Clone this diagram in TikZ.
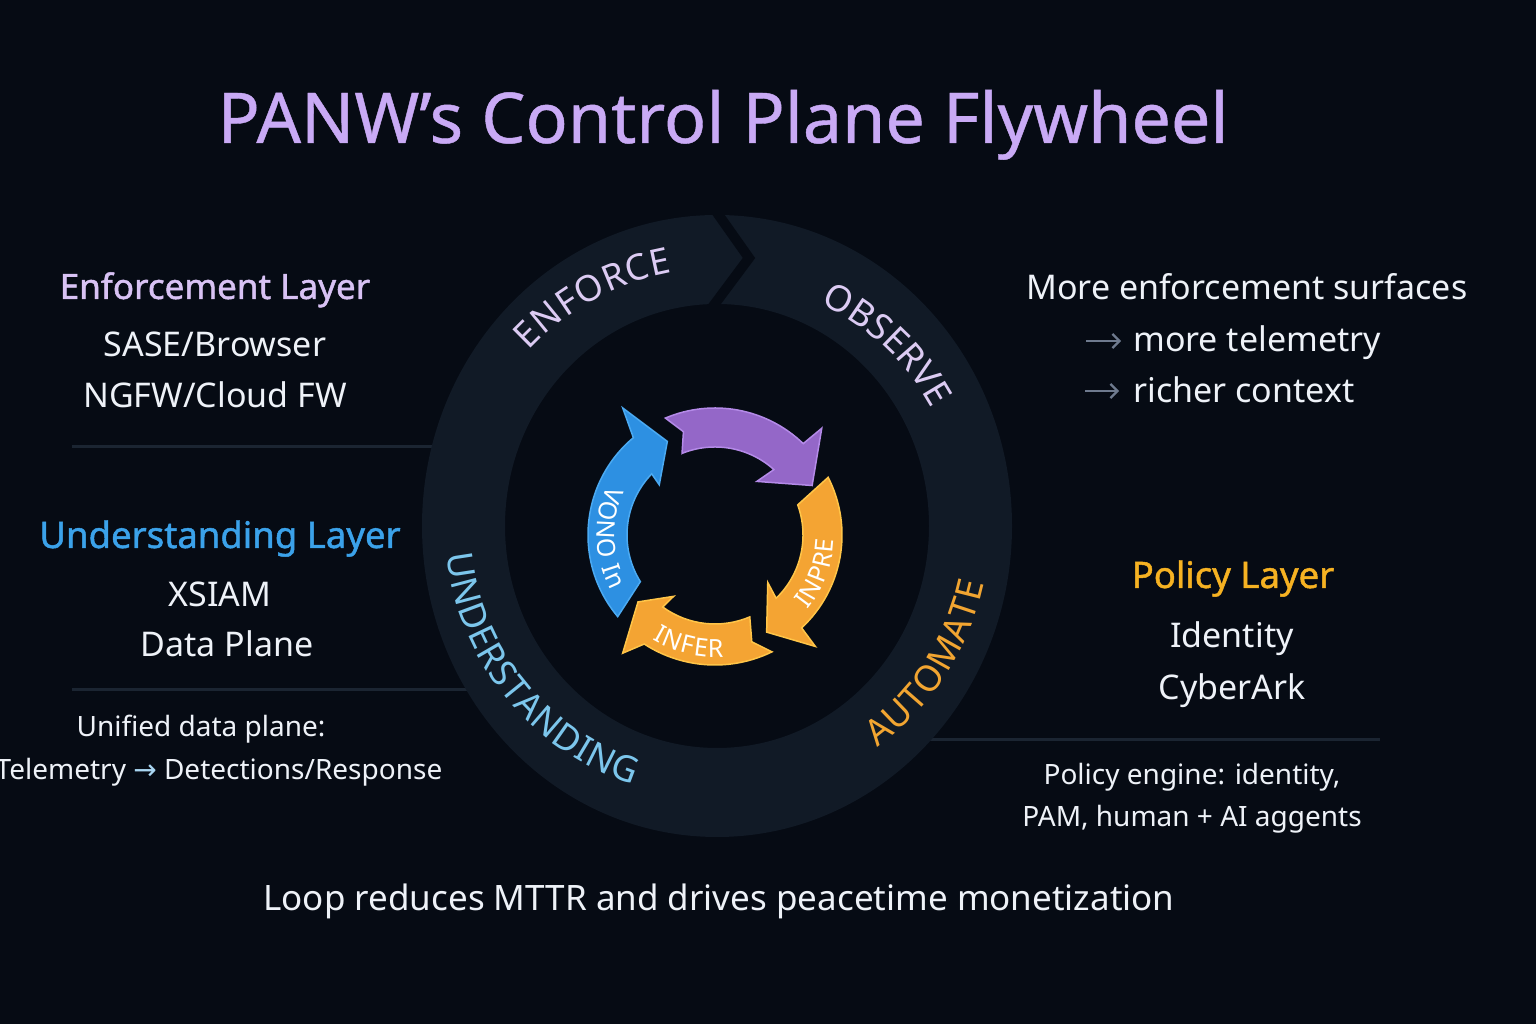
\documentclass[tikz,border=0pt]{standalone}
\usepackage{fontspec}
\setmainfont{Noto Sans}
\newfontfamily\symfont{DejaVu Sans}
\newfontfamily\headfont[FakeBold=1.3]{Noto Sans}
\newfontfamily\titlefont[FakeBold=0.6]{Noto Sans}
\usetikzlibrary{decorations.text,arrows.meta}
\definecolor{bg}{HTML}{060B14}
\definecolor{ringc}{HTML}{111A26}
\definecolor{divc}{HTML}{1B2532}
\definecolor{titlec}{HTML}{C9AAF5}
\definecolor{enfc}{HTML}{D8C2F4}
\definecolor{undc}{HTML}{3BA2EA}
\definecolor{polc}{HTML}{F6B222}
\definecolor{txtc}{HTML}{EEF2F8}
\definecolor{ringenf}{HTML}{DCCBF3}
\definecolor{ringund}{HTML}{7CC6EC}
\definecolor{ringaut}{HTML}{F2A531}
\definecolor{bluea}{HTML}{2D90E2}
\definecolor{blueedge}{HTML}{4BAAF2}
\definecolor{purpa}{HTML}{9467C8}
\definecolor{purpedge}{HTML}{B48AE8}
\definecolor{orga}{HTML}{F4A433}
\definecolor{orgedge}{HTML}{FFC548}
\definecolor{grayarr}{HTML}{6E7A8E}
\definecolor{arrlight}{HTML}{A9D6F2}
\newcommand\ringtxt{\fontsize{36}{36}\selectfont}
\newcommand\arrtxt{\fontsize{25}{25}\selectfont\bfseries}
\begin{document}
\begin{tikzpicture}[x=1pt,y=1pt,
  body/.style={text=txtc, font=\fontsize{34}{40}\selectfont, anchor=base, inner sep=0pt},
  smalltxt/.style={text=txtc, font=\fontsize{28}{34}\selectfont, anchor=base, inner sep=0pt},
  heading/.style={anchor=base, inner sep=0pt},
  divider/.style={draw=divc, line width=3pt},
  arrowshape/.style={line width=1.5pt, line join=miter},
  ringlabel/.style={decorate, decoration={text along path, text align=fit to path}},
  grayarrow/.style={draw=grayarr, line width=2.2pt, -{Straight Barb[length=7pt,width=14pt]}}]
\fill[bg] (0,0) rectangle (1536,1024);
\useasboundingbox (0,0) rectangle (1536,1024);

% title
\node[heading, text=titlec, font=\titlefont\fontsize{70}{80}\selectfont] (title) at (723,881) {PANW’s Control Plane Flywheel};

% dividers (behind ring)
\coordinate (d1a) at (72,577); \coordinate (d1b) at (480,577);
\coordinate (d2a) at (72,334); \coordinate (d2b) at (500,334);
\coordinate (d3a) at (900,284); \coordinate (d3b) at (1380,284);
\draw[divider] (d1a) -- (d1b);
\draw[divider] (d2a) -- (d2b);
\draw[divider] (d3a) -- (d3b);

% outer ring
\coordinate (C) at (717,498);
\fill[ringc, even odd rule] (C) ellipse[x radius=295, y radius=311] (C) ellipse[x radius=212, y radius=222];
\coordinate (n1) at (713,817); \coordinate (n2) at (749,766); \coordinate (n3) at (711,715);
\draw[bg, line width=10pt, miter limit=10] (n1) -- (n2) -- (n3);

\begin{scope}[shift={(C)}]
  \path[ringlabel, decoration={text={|\ringtxt\color{ringenf}|ENFORCE}}]
    (137:257) arc[start angle=137, end angle=100, radius=257];
  \path[ringlabel, decoration={text={|\ringtxt\color{ringenf}|OBSERVE}}]
    (65:245) arc[start angle=65, end angle=30, radius=245];
  \path[ringlabel, decoration={text={|\ringtxt\color{ringund}|UNDERSTANDING}}]
    (186:272) arc[start angle=186, end angle=252, radius=272];
  \path[ringlabel, decoration={text={|\ringtxt\color{ringaut}|AUTOMATE}}]
    (-54:273) arc[start angle=-54, end angle=-12, radius=273];
\end{scope}

% inner arrows
\begin{scope}[shift={(715,489)}]
  \filldraw[fill=bluea, draw=blueedge, arrowshape]
    (220:127) arc[start angle=220, end angle=130, radius=127] -- (126:157) -- (117:105) -- (138:75) -- (136:88)
    arc[start angle=136, end angle=212, radius=88] -- cycle;
  \filldraw[fill=purpa, draw=purpedge, arrowshape]
    (113:127) arc[start angle=113, end angle=46, radius=127] -- (45:151) -- (27:109) -- (52:68) -- (48:88)
    arc[start angle=48, end angle=112, radius=88] -- (107:108) -- cycle;
  \filldraw[fill=orga, draw=orgedge, arrowshape]
    (27:127) arc[start angle=27, end angle=-47, radius=127] -- (-48:150) -- (-62:110) -- (-42:71) -- (-46:88)
    arc[start angle=-46, end angle=20, radius=88] -- cycle;
  \filldraw[fill=orga, draw=orgedge, arrowshape]
    (296:130) arc[start angle=296, end angle=237, radius=130] -- (232:150) -- (221:102) -- (236:74) -- (234:89)
    arc[start angle=234, end angle=293, radius=89] -- (289:113) -- cycle;
  \path[ringlabel, decoration={text={|\arrtxt\color{white}|INFER}}]
    (239:122) arc[start angle=239, end angle=274, radius=122];
  \path[ringlabel, decoration={text={|\arrtxt\color{white}|INPRE}}]
    (-39:119) arc[start angle=-39, end angle=-2, radius=119];
  \path[ringlabel, decoration={text={|\arrtxt\color{white}|VONO In}}]
    (155:118) arc[start angle=155, end angle=208, radius=118];
\end{scope}

% left column
\node[heading, text=enfc, font=\headfont\fontsize{35}{40}\selectfont] (enfh) at (215,725) {Enforcement Layer};
\node[body] (sase) at (215,667) {SASE/Browser};
\node[body] (ngfw) at (215,616) {NGFW/Cloud FW};
\node[heading, text=undc, font=\headfont\fontsize{36.5}{40}\selectfont] (undh) at (220,476) {Understanding Layer};
\node[body] (xsiam) at (220,417) {XSIAM};
\node[body] (dplane) at (227,367) {Data Plane};
\node[smalltxt] (unified) at (201,287) {Unified data plane:};
\node[smalltxt] (telem) at (219,244) {Telemetry {\symfont\color{arrlight}→} Detections/Response};

% right column
\node[body, anchor=base west] (more) at (1026,724) {More enforcement surfaces};
\node[body, anchor=base west] (mtel) at (1133,672) {more telemetry};
\node[body, anchor=base west] (rctx) at (1133,621) {richer context};
\coordinate (g1a) at (1086,683); \coordinate (g1b) at (1121,683);
\coordinate (g2a) at (1085,633); \coordinate (g2b) at (1119,633);
\draw[grayarrow] (g1a) -- (g1b);
\draw[grayarrow] (g2a) -- (g2b);
\node[heading, text=polc, font=\headfont\fontsize{36.5}{40}\selectfont] (polh) at (1233,436) {Policy Layer};
\node[body] (ident) at (1232,376) {Identity};
\node[body] (cark) at (1232,324) {CyberArk};
\node[smalltxt] (pe1) at (1192,239) {Policy engine: identity,};
\node[smalltxt] (pe2) at (1192,197) {PAM, human + AI aggents};

% bottom line
\node[body, font=\fontsize{35}{40}\selectfont] (loop) at (719,113) {Loop reduces MTTR and drives peacetime monetization};
\end{tikzpicture}
\end{document}
